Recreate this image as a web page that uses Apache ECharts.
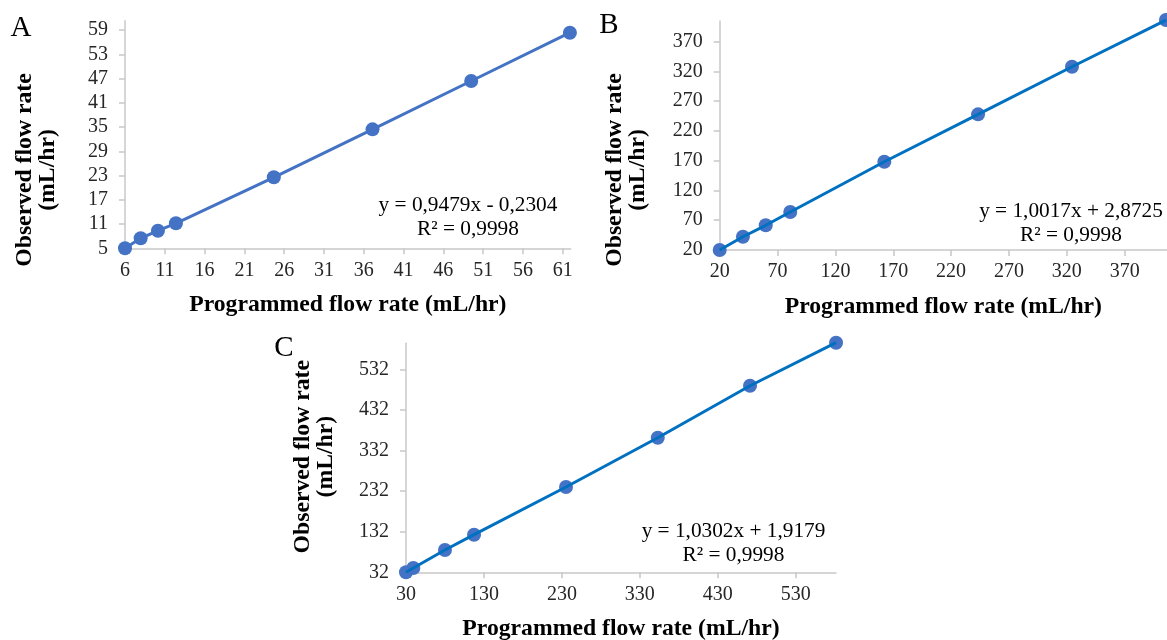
<!DOCTYPE html>
<html>
<head>
<meta charset="utf-8">
<script src="https://cdn.jsdelivr.net/npm/echarts@6/dist/echarts.min.js"></script>
<style>
html,body{margin:0;padding:0;background:#fff;}
#chart{width:1167px;height:640px;}
</style>
</head>
<body>
<div id="chart"></div>
<script>
// ---- Panel A data ----
const aProgrammed = [6, 7.97, 10.14, 12.4, 24.7, 37.1, 49.5, 61.9];
const aObserved   = [5, 7.47, 9.35, 11.18, 22.56, 34.43, 46.38, 58.33];
const aTicksX = [6, 11, 16, 21, 26, 31, 36, 41, 46, 51, 56, 61];
const aTicksY = [5, 11, 17, 23, 29, 35, 41, 47, 53, 59];
const aEquation = "y = 0,9479x - 0,2304\nR² = 0,9998";

// ---- Panel B data ----
const bProgrammed = [20, 40.1, 59.8, 81.0, 162.3, 243.3, 324.5, 405.7];
const bObserved   = [20, 42.3, 61.5, 83.8, 168.3, 247.9, 327.9, 406.4];
const bTicksX = [20, 70, 120, 170, 220, 270, 320, 370];
const bTicksY = [20, 70, 120, 170, 220, 270, 320, 370];
const bEquation = "y = 1,0017x + 2,8725\nR² = 0,9998";

// ---- Panel C data ----
const cProgrammed = [30, 39.4, 80.0, 117.3, 235.3, 353.0, 471.4, 581.8];
const cObserved   = [32, 42.6, 86.9, 124.6, 242.1, 363.4, 491.5, 597.5];
const cTicksX = [30, 130, 230, 330, 430, 530];
const cTicksY = [32, 132, 232, 332, 432, 532];
const cEquation = "y = 1,0302x + 1,9179\nR² = 0,9998";

const xTitle = "Programmed flow rate (mL/hr)";
const yTitle = "Observed flow rate\n(mL/hr)";

const FONT = "'Liberation Serif', 'Times New Roman', serif";
const axisGray = '#C8C8C8';
const labelColor = '#262626';
const markerColor = '#4472C4';

function pairs(xs, ys) { return xs.map((x, i) => [x, ys[i]]); }

function xAxisCfg(gridIndex, min, max, ticks) {
  return {
    type: 'value', gridIndex, min, max,
    name: xTitle, nameLocation: 'middle', nameGap: 45,
    nameTextStyle: { fontFamily: FONT, fontSize: 23.7, fontWeight: 'bold', color: '#000' },
    axisLine: { show: true, onZero: false, lineStyle: { color: axisGray, width: 1.5 } },
    axisTick: { show: true, length: 6, customValues: ticks, lineStyle: { color: axisGray, width: 1.5 } },
    axisLabel: { customValues: ticks, margin: 12, fontFamily: FONT, fontSize: 20, color: labelColor },
    splitLine: { show: false }
  };
}
function yAxisCfg(gridIndex, min, max, ticks) {
  return {
    type: 'value', gridIndex, min, max,
    axisLine: { show: true, onZero: false, lineStyle: { color: axisGray, width: 1.5 } },
    axisTick: { show: true, length: 6, customValues: ticks, lineStyle: { color: axisGray, width: 1.5 } },
    axisLabel: { customValues: ticks, margin: 17, fontFamily: FONT, fontSize: 20, color: labelColor },
    splitLine: { show: false }
  };
}
function pointSeries(idx, data) {
  return {
    type: 'scatter', xAxisIndex: idx, yAxisIndex: idx, data,
    symbol: 'circle', symbolSize: 14, clip: false, z: 2,
    itemStyle: { color: markerColor, opacity: 1 }, silent: true
  };
}
function lineSeries(idx, data, color) {
  return {
    type: 'line', xAxisIndex: idx, yAxisIndex: idx, data,
    showSymbol: false, symbol: 'none', clip: false, z: 3,
    lineStyle: { color, width: 3 }, silent: true, animation: false
  };
}
function txt(x, y, text, size, weight, rot, lh) {
  return {
    type: 'text', x, y, rotation: rot || 0, silent: true, z: 10,
    style: {
      text, fill: '#000', font: (weight || 'normal') + ' ' + size + 'px ' + FONT,
      align: 'center', verticalAlign: 'middle', lineHeight: lh || size
    }
  };
}

const chart = echarts.init(document.getElementById('chart'), null, { renderer: 'canvas' });
chart.setOption({
  animation: false,
  backgroundColor: '#ffffff',
  grid: [
    { left: 125, right: 596.3, top: 20.7, bottom: 391.7, outerBoundsMode: 'none', containLabel: false },
    { left: 719.7, right: 0, top: 21, bottom: 390, outerBoundsMode: 'none', containLabel: false },
    { left: 406, right: 331, top: 343.3, bottom: 67.7, outerBoundsMode: 'none', containLabel: false }
  ],
  xAxis: [
    xAxisCfg(0, 6, 62, aTicksX),
    xAxisCfg(1, 20, 406.6, bTicksX),
    xAxisCfg(2, 30, 581.7, cTicksX)
  ],
  yAxis: [
    yAxisCfg(0, 5, 61.3, aTicksY),
    yAxisCfg(1, 20, 404.8, bTicksY),
    yAxisCfg(2, 32, 596, cTicksY)
  ],
  series: [
    pointSeries(0, pairs(aProgrammed, aObserved)),
    lineSeries(0, pairs(aProgrammed, aObserved), '#4472C4'),
    pointSeries(1, pairs(bProgrammed, bObserved)),
    lineSeries(1, pairs(bProgrammed, bObserved), '#0070C0'),
    pointSeries(2, pairs(cProgrammed, cObserved)),
    lineSeries(2, pairs(cProgrammed, cObserved), '#0070C0')
  ],
  graphic: [
    txt(21, 28, 'A', 29),
    txt(609, 25, 'B', 29),
    txt(284, 348.5, 'C', 29),
    txt(36.8, 170, yTitle, 23.7, 'bold', Math.PI / 2, 23),
    txt(626.7, 170, yTitle, 23.7, 'bold', Math.PI / 2, 23),
    txt(313.9, 456.7, yTitle, 23.7, 'bold', Math.PI / 2, 23),
    txt(468, 217.8, aEquation, 21.3, 'normal', 0, 24),
    txt(1071, 222.9, bEquation, 21.3, 'normal', 0, 24),
    txt(733.5, 543, cEquation, 21.3, 'normal', 0, 24)
  ]
});
</script>
</body>
</html>
